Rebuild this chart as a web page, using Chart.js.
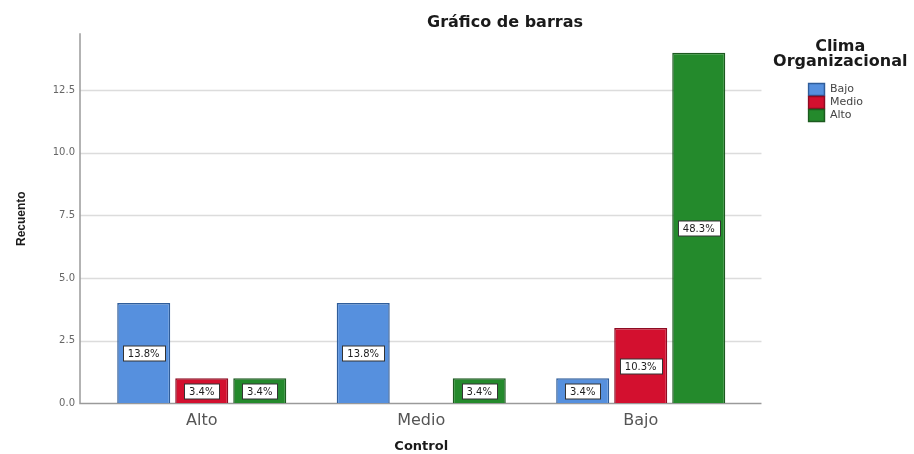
<!DOCTYPE html>
<html>
<head>
<meta charset="utf-8">
<script src="https://cdn.jsdelivr.net/npm/chart.js@4.4.1/dist/chart.umd.min.js"></script>
<style>
  body { margin: 0; background: #fff; }
</style>
</head>
<body>
<canvas id="grafico" width="914" height="454"></canvas>
<script>
// categorias del eje X (Control)
var categorias = ['Alto', 'Medio', 'Bajo'];

// recuento por nivel de Clima Organizacional
var bajo = [4, 4, 1];
var medio = [1, null, 3];
var alto = [1, 1, 14];

// porcentajes que van rotulados dentro de cada barra
var pctBajo = ['13.8%', '13.8%', '3.4%'];
var pctMedio = ['3.4%', null, '10.3%'];
var pctAlto = ['3.4%', '3.4%', '48.3%'];

// marcas del eje Y
var yTicks = [0, 2.5, 5, 7.5, 10, 12.5];
var yMax = 14.74;

// titulo de la leyenda (dos lineas, mas ancho que la caja de la leyenda)
var tituloLeyenda = ['Clima', 'Organizacional'];

Chart.defaults.font.family = 'DejaVu Sans';

//********** lineas de rejilla y ejes ***********
var ejes = {
    id: 'ejes',
    beforeDatasetsDraw: function(chart) {
        var ctx = chart.ctx;
        var a = chart.chartArea;
        var y = chart.scales.y;
        var x0 = a.left - 12, x1 = a.right + 11;
        ctx.save();
        ctx.lineWidth = 1.5;
        ctx.strokeStyle = '#dcdcdc';
        y.ticks.forEach(function(t) {
            if (t.value === 0) return;
            var py = Math.round(y.getPixelForValue(t.value)) + 0.5;
            ctx.beginPath();
            ctx.moveTo(x0, py);
            ctx.lineTo(x1, py);
            ctx.stroke();
        });
        var base = Math.round(y.getPixelForValue(0)) + 0.5;
        ctx.strokeStyle = '#9a9a9a';
        ctx.beginPath();
        ctx.moveTo(x0, a.top - 1);
        ctx.lineTo(x0, base);
        ctx.lineTo(x1, base);
        ctx.stroke();
        ctx.restore();
    }
};

//********** rotulos de porcentaje ***********
var rotulos = {
    id: 'rotulos',
    afterDatasetsDraw: function(chart) {
        var ctx = chart.ctx;
        ctx.save();
        ctx.font = '10px "DejaVu Sans"';
        ctx.textAlign = 'center';
        ctx.textBaseline = 'middle';
        chart.data.datasets.forEach(function(ds, i) {
            var meta = chart.getDatasetMeta(i);
            meta.data.forEach(function(bar, j) {
                var txt = ds.pct[j];
                if (!txt) return;
                var cy = Math.round((bar.y + bar.base) / 2);
                var w = Math.round(ctx.measureText(txt).width) + 10, h = 15;
                var bx = Math.round(bar.x - w / 2) + 0.5, by = cy - 7;
                ctx.fillStyle = '#fff';
                ctx.fillRect(bx, by, w, h);
                ctx.strokeStyle = '#333';
                ctx.lineWidth = 1;
                ctx.strokeRect(bx, by, w, h);
                ctx.fillStyle = '#222';
                ctx.fillText(txt, bar.x, cy + 1);
            });
        });
        ctx.restore();
    }
};

// titulo de la leyenda centrado sobre la caja, sin recortar
var tituloLey = {
    id: 'tituloLey',
    afterDraw: function(chart) {
        var lg = chart.legend;
        var ctx = chart.ctx;
        ctx.save();
        ctx.font = 'bold 16px "DejaVu Sans"';
        ctx.fillStyle = '#1a1a1a';
        ctx.textAlign = 'center';
        ctx.textBaseline = 'middle';
        var cx = (lg.left + lg.right) / 2;
        tituloLeyenda.forEach(function(t, i) {
            ctx.fillText(t, cx, lg.top + 13 + i * 15);
        });
        ctx.restore();
    }
};

// el titulo de SPSS queda algo a la derecha del centro
var posicion = {
    id: 'posicion',
    afterLayout: function(chart) {
        chart.titleBlock.left = 137;
    }
};

var ctx = document.getElementById('grafico').getContext('2d');
var chart = new Chart(ctx, {
    type: 'bar',
    data: {
        labels: categorias,
        datasets: [{
                label: 'Bajo',
                data: bajo,
                pct: pctBajo,
                backgroundColor: '#5690de',
                borderColor: '#2f5d9a',
                borderWidth: 1.5
            },
            {
                label: 'Medio',
                data: medio,
                pct: pctMedio,
                backgroundColor: '#d3102f',
                borderColor: '#8e0b22',
                borderWidth: 1.5
            },
            {
                label: 'Alto',
                data: alto,
                pct: pctAlto,
                backgroundColor: '#248a2c',
                borderColor: '#1c5a1f',
                borderWidth: 1.5
            }
        ]
    },
    options: {
        responsive: false,
        animation: false,
        datasets: {
            bar: { categoryPercentage: 0.793, barPercentage: 0.914 }
        },
        layout: { padding: { left: 0, right: 41, top: 0, bottom: 0 } },
        plugins: {
            title: {
                display: true,
                text: 'Gráfico de barras',
                color: '#1a1a1a',
                font: { size: 16, weight: 'bold' },
                padding: { top: 13, bottom: 2 }
            },
            legend: {
                position: 'right',
                align: 'start',
                fullSize: false,
                // hueco reservado para el titulo que dibuja tituloLey
                title: {
                    display: true,
                    text: '',
                    font: { size: 16, weight: 'bold', lineHeight: 0.95 },
                    padding: { top: 5, bottom: 28 }
                },
                labels: {
                    boxWidth: 16,
                    boxHeight: 12,
                    padding: 1,
                    color: '#444',
                    font: { size: 11 }
                }
            },
            tooltip: { enabled: false }
        },
        scales: {
            x: {
                grid: { display: false, drawTicks: false },
                border: { display: false },
                ticks: { color: '#555', font: { size: 16 }, padding: 8 },
                title: {
                    display: true,
                    text: 'Control',
                    color: '#1a1a1a',
                    font: { size: 13, weight: 'bold' },
                    padding: { top: 0, bottom: 0 }
                }
            },
            y: {
                min: 0,
                max: yMax,
                grid: { display: false, drawTicks: false },
                border: { display: false },
                afterBuildTicks: function(s) {
                    s.ticks = yTicks.map(function(v) { return { value: v }; });
                },
                ticks: {
                    color: '#666',
                    font: { size: 10 },
                    padding: 17,
                    callback: function(v) { return Number(v).toFixed(1); }
                },
                title: {
                    display: true,
                    text: 'Recuento',
                    color: '#1a1a1a',
                    font: { family: 'Liberation Sans', size: 12, weight: 'bold' },
                    padding: { top: 14, bottom: 0 }
                },
                afterFit: function(s) { s.width = 92; }
            },
            hueco: {
                type: 'linear',
                position: 'right',
                grid: { display: false, drawTicks: false },
                border: { display: false },
                ticks: { display: false },
                afterFit: function(s) { s.width = 57; }
            }
        }
    },
    plugins: [ejes, rotulos, tituloLey, posicion]
});
</script>
</body>
</html>
